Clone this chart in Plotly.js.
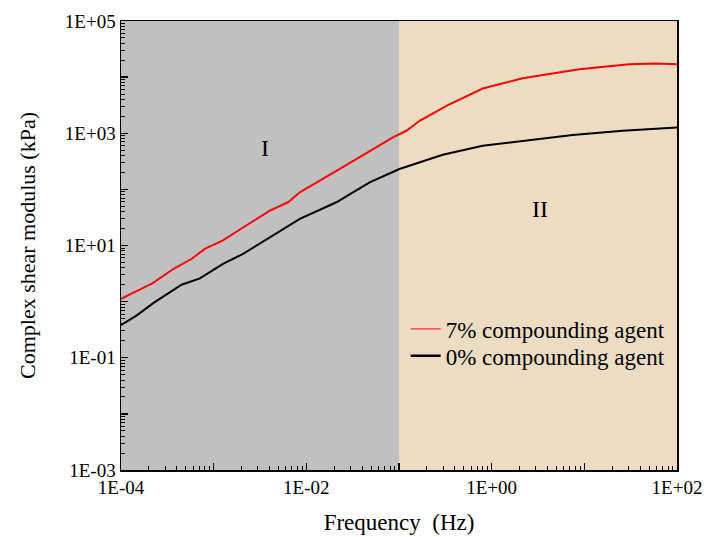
<!DOCTYPE html>
<html><head><meta charset="utf-8">
<script src="https://cdn.plot.ly/plotly-3.0.1.min.js"></script>
<style>html,body{margin:0;padding:0;background:#fff}#chart{width:704px;height:537px}</style>
</head><body><div id="chart"></div>
<script>
const redFreq = [1.0e-4, 2.2e-4, 3.7e-4, 5.8e-4, 8.0e-4, 1.26e-3, 2.45e-3, 4.04e-3, 6.35e-3, 8.5e-3, 2.3e-2, 5.7e-2, 8.6e-2, 0.12, 0.167, 0.337, 0.80, 2.16, 8.8, 30.5, 59.3, 100];
const redG    = [1.12, 2.14, 3.85, 5.8, 8.7, 12.3, 24.9, 41.9, 58.9, 88.7, 231, 560, 843, 1107, 1667, 3162, 6266, 9572, 13830, 16980, 17420, 16980];
const blackFreq = [1.0e-4, 1.48e-4, 2.23e-4, 4.5e-4, 7.1e-4, 1.26e-3, 2.08e-3, 4.38e-3, 8.5e-3, 2.11e-2, 4.82e-2, 0.101, 0.167, 0.297, 0.80, 2.55, 7.48, 25.9, 100];
const blackG    = [0.38, 0.57, 0.94, 2.0, 2.6, 4.72, 7.11, 15.1, 29.9, 58.9, 133, 231, 303, 415, 600, 757, 929, 1107, 1268];
const seriesNames = ['7% compounding agent', '0% compounding agent'];
const xTickVals = [1e-4, 1e-3, 1e-2, 1e-1, 1e0, 1e1, 1e2];
const xTickText = ['1E-04', '', '1E-02', '', '1E+00', '', '1E+02'];
const yTickVals = [1e-3, 1e-2, 1e-1, 1e0, 1e1, 1e2, 1e3, 1e4, 1e5];
const yTickText = ['1E-03', '', '1E-01', '', '1E+01', '', '1E+03', '', '1E+05'];
const regionBounds = [1e-4, 0.1, 100];
const regionLabels = ['I', 'II'];

function minorVals(lo, hi) {
  const v = [];
  for (let e = lo; e < hi; e++) for (let m = 2; m <= 9; m++) v.push(m * Math.pow(10, e));
  return v;
}
const font = 'Liberation Serif, Times New Roman, serif';
const legendCommon = {xanchor: 'left', yanchor: 'top', bgcolor: 'rgba(0,0,0,0)', font: {size: 23, family: font}};

const traces = [
  {x: redFreq, y: redG, name: seriesNames[0], mode: 'lines', line: {color: '#ff0000', width: 2}, showlegend: false},
  {x: blackFreq, y: blackG, name: seriesNames[1], mode: 'lines', line: {color: '#000000', width: 2}, showlegend: false},
  {x: [null], y: [null], name: seriesNames[0], mode: 'lines', line: {color: '#ff0000', width: 1}, legend: 'legend'},
  {x: [null], y: [null], name: seriesNames[1], mode: 'lines', line: {color: '#000000', width: 2.5}, legend: 'legend2'}
];
const layout = {
  width: 704, height: 537,
  margin: {l: 121, r: 27, t: 21, b: 67},
  paper_bgcolor: '#ffffff', plot_bgcolor: '#ffffff',
  font: {family: font, size: 19, color: '#000'},
  showlegend: true,
  legend: Object.assign({x: 0.512, y: 0.362}, legendCommon),
  legend2: Object.assign({x: 0.512, y: 0.302}, legendCommon),
  xaxis: {
    type: 'log', range: [-4, 2], showgrid: false, zeroline: false,
    showline: true, linecolor: '#000', linewidth: 1.5, mirror: true,
    ticks: 'inside', ticklen: 7, tickwidth: 1.3, tickcolor: '#000',
    tickmode: 'array', tickvals: xTickVals, ticktext: xTickText,
    tickfont: {size: 19, family: font},
    minor: {tickmode: 'array', tickvals: minorVals(-4, 2), ticks: 'inside', ticklen: 4, tickwidth: 1, tickcolor: '#000', showgrid: false},
    title: {text: 'Frequency  (Hz)', font: {size: 23, family: font}, standoff: 16}
  },
  yaxis: {
    type: 'log', range: [-3, 5], showgrid: false, zeroline: false,
    showline: true, linecolor: '#000', linewidth: 1.5, mirror: true,
    ticks: 'inside', ticklen: 7, tickwidth: 1.3, tickcolor: '#000',
    tickmode: 'array', tickvals: yTickVals, ticktext: yTickText,
    tickfont: {size: 19, family: font},
    minor: {tickmode: 'array', tickvals: minorVals(-3, 5), ticks: 'inside', ticklen: 4, tickwidth: 1, tickcolor: '#000', showgrid: false},
    title: {text: 'Complex shear modulus (kPa)', font: {size: 22, family: font}, standoff: 23}
  },
  shapes: [
    {type: 'rect', xref: 'x', yref: 'paper', x0: regionBounds[0], x1: regionBounds[1], y0: 0, y1: 1, fillcolor: '#c0c0c0', line: {width: 0}, layer: 'below'},
    {type: 'rect', xref: 'x', yref: 'paper', x0: regionBounds[1], x1: regionBounds[2], y0: 0, y1: 1, fillcolor: '#ecdcc2', line: {width: 0}, layer: 'below'}
  ],
  annotations: [
    {x: -2.448, y: 2.743, xref: 'x', yref: 'y', text: regionLabels[0], showarrow: false, font: {size: 24, family: font}},
    {x: 0.526, y: 1.658, xref: 'x', yref: 'y', text: regionLabels[1], showarrow: false, font: {size: 24, family: font}}
  ]
};
Plotly.newPlot('chart', traces, layout, {displayModeBar: false, staticPlot: true});
</script></body></html>
